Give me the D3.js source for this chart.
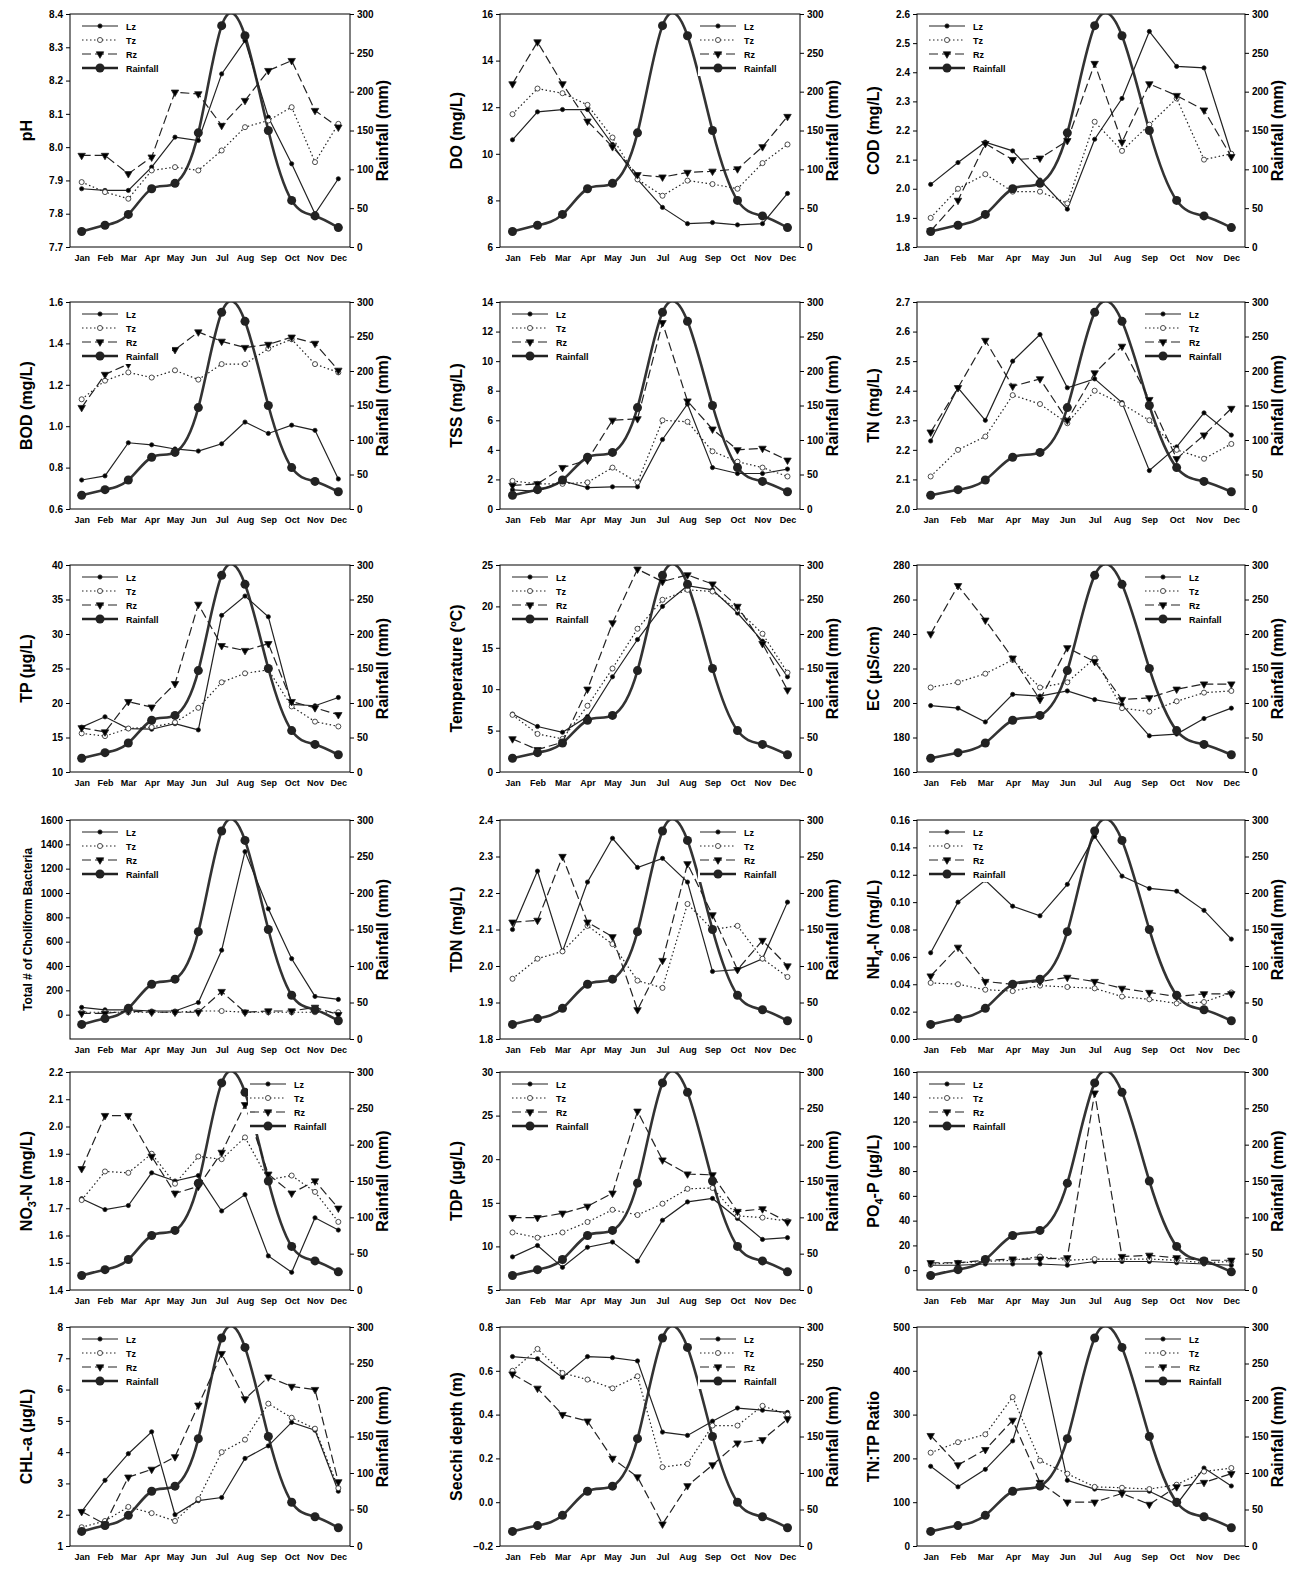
<!DOCTYPE html>
<html><head><meta charset="utf-8">
<script src="https://cdn.jsdelivr.net/npm/d3@7"></script>
<style>body{margin:0;background:#fff}text{font-family:Arial,"Liberation Sans",sans-serif}</style>
</head><body><svg width="1306" height="1571"></svg>
<script>
var months = ["Jan","Feb","Mar","Apr","May","Jun","Jul","Aug","Sep","Oct","Nov","Dec"];
var rainfall = [20, 28, 42, 75, 82, 147, 285, 272, 150, 60, 40, 25];
var rainTicks = [0, 50, 100, 150, 200, 250, 300];

/* per panel: label, domain, ticks, Lz, Tz, Rz, legend side */
var labels = ["pH","DO (mg/L)","COD (mg/L)","BOD (mg/L)","TSS (mg/L)","TN (mg/L)","TP (µg/L)","Temperature (ºC)","EC (µS/cm)",
  "Total # of Choliform Bacteria","TDN (mg/L)","NH|4|-N (mg/L)","NO|3|-N (mg/L)","TDP (µg/L)","PO|4|-P (µg/L)","CHL-a (µg/L)","Secchi depth (m)","TN:TP Ratio"];
var domains = [[7.7,8.4],[6,16],[1.8,2.6],[0.6,1.6],[0,14],[2.0,2.7],[10,40],[0,25],[160,280],
  [-200,1600],[1.8,2.4],[0,0.16],[1.4,2.2],[5,30],[-16,160],[1,8],[-0.2,0.8],[0,500]];
var tickSets = [d3.range(7.7,8.41,0.1),d3.range(6,16.1,2),d3.range(1.8,2.61,0.1),d3.range(0.6,1.61,0.2),d3.range(0,14.1,2),d3.range(2.0,2.71,0.1),d3.range(10,40.1,5),d3.range(0,25.1,5),d3.range(160,280.1,20),
  d3.range(0,1601,200),d3.range(1.8,2.41,0.1),d3.range(0,0.161,0.02),d3.range(1.4,2.21,0.1),d3.range(5,30.1,5),d3.range(0,160.1,20),d3.range(1,8.1,1),d3.range(-0.2,0.81,0.2),d3.range(0,501,100)];
var tickFmt = [".1f",".0f",".1f",".1f",".0f",".1f",".0f",".0f",".0f",".0f",".1f",".2f",".1f",".0f",".0f",".0f",".1f",".0f"];
var lz = [
  [7.875,7.87,7.87,7.94,8.03,8.02,8.22,8.32,8.09,7.95,7.80,7.905],
  [10.6,11.8,11.9,11.9,10.4,8.9,7.7,7.0,7.05,6.95,7.0,8.3],
  [2.015,2.09,2.16,2.13,2.03,1.93,2.17,2.31,2.54,2.42,2.415,2.12],
  [0.74,0.76,0.92,0.91,0.89,0.88,0.915,1.02,0.965,1.005,0.98,0.745],
  [1.3,1.2,1.9,1.45,1.5,1.5,4.7,7.1,2.8,2.4,2.4,2.7],
  [2.23,2.41,2.30,2.50,2.59,2.41,2.44,2.36,2.13,2.21,2.325,2.25],
  [16.5,18.0,16.3,16.2,17.0,16.1,32.7,35.5,32.5,19.8,19.6,20.8],
  [7.0,5.5,4.8,6.7,11.5,16.0,20.0,22.5,22.0,19.2,15.8,11.5],
  [198.5,197,189,205,204,207,202,199,181,182,191,197],
  [60,40,40,30,30,100,530,1340,870,460,150,125],
  [2.10,2.26,2.04,2.23,2.35,2.27,2.295,2.23,1.985,1.99,2.02,2.175],
  [0.063,0.10,0.116,0.097,0.09,0.113,0.148,0.119,0.110,0.108,0.094,0.073],
  [1.735,1.695,1.71,1.83,1.80,1.82,1.69,1.75,1.525,1.465,1.665,1.62],
  [8.8,10.1,7.6,9.9,10.5,8.3,13.0,15.1,15.5,13.2,10.8,11.0],
  [4,4,5,5,5,4,7,7,7,6,5,4],
  [2.1,3.1,3.95,4.65,2.0,2.45,2.55,3.8,4.2,4.95,4.7,2.75],
  [0.665,0.655,0.57,0.665,0.66,0.645,0.32,0.305,0.37,0.43,0.42,0.41],
  [182,135,175,240,440,150,130,125,125,95,178,137]];
var tz = [
  [7.895,7.865,7.845,7.93,7.94,7.93,7.99,8.06,8.08,8.12,7.955,8.07],
  [11.7,12.8,12.6,12.1,10.7,8.9,8.2,8.85,8.7,8.5,9.6,10.4],
  [1.90,2.00,2.05,1.99,1.99,1.95,2.23,2.13,2.22,2.31,2.10,2.12],
  [1.13,1.22,1.26,1.235,1.27,1.225,1.30,1.30,1.375,1.42,1.30,1.26],
  [1.9,1.7,1.7,1.8,2.8,1.8,6.0,5.9,3.9,3.2,2.8,2.2],
  [2.11,2.20,2.245,2.385,2.355,2.29,2.40,2.355,2.30,2.20,2.17,2.22],
  [15.6,15.2,16.3,16.5,17.2,19.3,23.0,24.3,24.8,19.5,17.3,16.6],
  [6.9,4.6,4.0,8.0,12.5,17.3,20.8,22.0,21.8,19.6,16.7,12.0],
  [209,212,217,225,209,212,226,197,195,201,206,207],
  [20,20,20,20,20,30,30,20,20,20,20,20],
  [1.965,2.02,2.04,2.11,2.06,1.96,1.94,2.17,2.10,2.11,2.02,1.97],
  [0.041,0.040,0.036,0.035,0.039,0.038,0.037,0.031,0.029,0.026,0.027,0.034],
  [1.73,1.835,1.83,1.90,1.79,1.89,1.88,1.96,1.805,1.82,1.76,1.65],
  [11.6,11.0,11.6,12.8,14.2,13.6,14.9,16.6,16.7,13.5,13.3,12.9],
  [5,6,7,8,11,8,9,9,9,8,6,7],
  [1.6,1.8,2.25,2.05,1.8,2.5,4.0,4.4,5.55,5.1,4.75,2.85],
  [0.60,0.70,0.59,0.56,0.52,0.575,0.16,0.175,0.35,0.35,0.44,0.40],
  [213,237,255,340,195,165,135,133,130,140,170,178]];
var rz = [
  [7.975,7.975,7.92,7.97,8.165,8.16,8.065,8.14,8.23,8.26,8.11,8.06],
  [13.0,14.8,13.0,11.4,10.3,9.1,9.0,9.2,9.25,9.35,10.3,11.6],
  [1.855,1.96,2.155,2.10,2.105,2.165,2.43,2.16,2.36,2.32,2.27,2.11],
  [1.09,1.25,1.30,1.33,1.37,1.455,1.41,1.38,1.395,1.43,1.40,1.27],
  [1.6,1.7,2.8,3.3,6.0,6.1,12.6,7.3,5.4,4.0,4.1,3.3],
  [2.26,2.41,2.57,2.415,2.44,2.30,2.46,2.55,2.37,2.17,2.25,2.34],
  [16.4,15.8,20.2,19.4,22.8,34.3,28.3,27.6,28.6,20.2,19.3,18.3],
  [4.0,2.7,3.6,10.0,18.0,24.5,23.0,23.8,22.7,20.0,15.5,9.9],
  [240,268,248,226,202,232,224,202,203,208,211,211],
  [10,10,30,20,20,20,190,20,30,30,60,0],
  [2.12,2.125,2.30,2.12,2.08,1.88,2.015,2.28,2.14,1.99,2.07,2.00],
  [0.046,0.067,0.042,0.040,0.042,0.045,0.042,0.037,0.034,0.031,0.033,0.033],
  [1.845,2.04,2.04,1.89,1.755,1.78,1.905,2.08,1.825,1.755,1.80,1.70],
  [13.3,13.3,13.8,14.6,16.1,25.5,19.9,18.3,18.2,14.0,14.3,12.8],
  [6,6,8,9,9,10,143,11,12,10,8,8],
  [2.1,1.7,3.2,3.45,3.85,5.5,7.15,5.7,6.4,6.1,6.0,3.05],
  [0.585,0.52,0.40,0.37,0.20,0.115,-0.10,0.075,0.17,0.27,0.285,0.38],
  [252,185,220,287,145,100,100,120,95,135,145,165]];
var legendSide = ["l","r","l","l","l","r","l","l","r","l","r","l","r","l","l","l","r","r"];

var svg = d3.select("svg");
var rows = [[14,247],[302,509],[565,772],[820,1039],[1072,1290],[1327,1546]];
var cols = [[70,350],[500,800],[917,1245]];
var series = [
  {name:"Lz", data:lz, dash:null, w:1.2, sym:d3.symbolCircle, size:14, fill:"#000"},
  {name:"Tz", data:tz, dash:"1.5,2.5", w:1.2, sym:d3.symbolCircle, size:20, fill:"#fff"},
  {name:"Rz", data:rz, dash:"9,4", w:1.2, sym:d3.symbolTriangle, size:24, fill:"#000", flip:true}
];

labels.forEach(function(lab, i) {
  var r = rows[Math.floor(i / 3)], c = cols[i % 3];
  var w = c[1] - c[0], h = r[1] - r[0];
  var g = svg.append("g").attr("transform", "translate(" + c[0] + "," + r[0] + ")");
  var x = d3.scalePoint().domain(months).range([0, w]).padding(0.5);
  var y = d3.scaleLinear().domain(domains[i]).range([h, 0]);
  var y2 = d3.scaleLinear().domain([0, 300]).range([h, 0]);

  g.append("clipPath").attr("id", "c" + i).append("rect").attr("width", w).attr("height", h);
  g.append("rect").attr("width", w).attr("height", h).attr("fill", "none").attr("stroke", "#000");

  var xa = g.append("g").attr("transform", "translate(0," + h + ")").call(d3.axisBottom(x).tickSize(0).tickPadding(8));
  var ya = g.append("g").call(d3.axisLeft(y).tickValues(tickSets[i]).tickFormat(d3.format(tickFmt[i])).tickSize(4));
  var ra = g.append("g").attr("transform", "translate(" + w + ",0)").call(d3.axisRight(y2).tickValues(rainTicks).tickSize(4));
  [xa, ya, ra].forEach(function(a) { a.select(".domain").remove(); a.selectAll("text").attr("font-size", 10).attr("font-weight", "bold"); });
  xa.selectAll("text").attr("font-size", 9);

  var t = g.append("text").attr("transform", "translate(-38," + h / 2 + ") rotate(-90)").attr("text-anchor", "middle")
    .attr("font-size", i == 9 ? 12 : 16).attr("font-weight", "bold");
  lab.split("|").forEach(function(part, k) {
    var sp = t.append("tspan").text(part);
    if (k == 1) sp.attr("font-size", 11).attr("dy", 4);
    if (k == 2) sp.attr("dy", -4);
  });
  g.append("text").attr("transform", "translate(" + (w + 38) + "," + h / 2 + ") rotate(-90)").attr("text-anchor", "middle")
    .attr("font-size", 16).attr("font-weight", "bold").text("Rainfall (mm)");

  var plot = g.append("g").attr("clip-path", "url(#c" + i + ")");
  var rainLine = d3.line().x(function(d, k) { return x(months[k]); }).y(function(d) { return y2(d); }).curve(d3.curveNatural);
  plot.append("path").datum(rainfall).attr("d", rainLine).attr("fill", "none").attr("stroke", "#333").attr("stroke-width", 2.6);

  // legend box with white background
  var lx = legendSide[i] == "l" ? 12 : w - 100, ly = 6;
  var leg = g.append("g").attr("transform", "translate(" + lx + "," + ly + ")");
  leg.append("rect").attr("x", -2).attr("y", -2).attr("width", 92).attr("height", 58).attr("fill", "#fff");

  var line = d3.line().x(function(d, k) { return x(months[k]); }).y(function(d) { return y(d); });
  series.forEach(function(s, si) {
    plot.append("path").datum(s.data[i]).attr("d", line).attr("fill", "none").attr("stroke", "#222")
      .attr("stroke-width", s.w).attr("stroke-dasharray", s.dash);
    plot.selectAll(null).data(s.data[i]).enter().append("path")
      .attr("d", d3.symbol().type(s.sym).size(s.size))
      .attr("transform", function(d, k) { return "translate(" + x(months[k]) + "," + y(d) + ")" + (s.flip ? " rotate(180)" : ""); })
      .attr("fill", s.fill).attr("stroke", "#222").attr("stroke-width", 0.8);
  });
  plot.selectAll(null).data(rainfall).enter().append("circle")
    .attr("cx", function(d, k) { return x(months[k]); }).attr("cy", function(d) { return y2(d); })
    .attr("r", 4.5).attr("fill", "#222");

  var items = series.concat([{name:"Rainfall", dash:null, w:2.6, rain:true}]);
  items.forEach(function(s, k) {
    var yy = 6 + k * 14;
    leg.append("line").attr("x1", 0).attr("x2", 36).attr("y1", yy).attr("y2", yy).attr("stroke", "#222")
      .attr("stroke-width", s.w).attr("stroke-dasharray", s.dash);
    if (s.rain) leg.append("circle").attr("cx", 18).attr("cy", yy).attr("r", 4.5).attr("fill", "#222");
    else leg.append("path").attr("d", d3.symbol().type(s.sym).size(s.size))
      .attr("transform", "translate(18," + yy + ")" + (s.flip ? " rotate(180)" : ""))
      .attr("fill", s.fill).attr("stroke", "#222").attr("stroke-width", 0.8);
    leg.append("text").attr("x", 44).attr("y", yy + 3.5).attr("font-size", 9).attr("font-weight", "bold").text(s.name);
  });
});
</script></body></html>
